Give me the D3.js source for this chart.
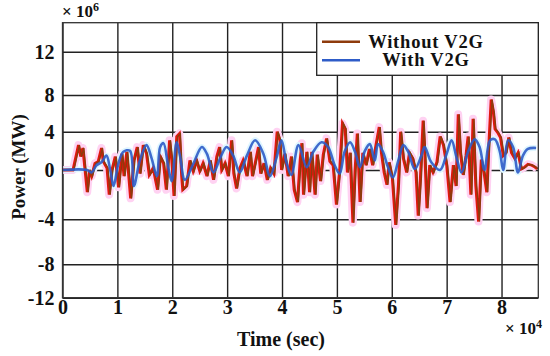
<!DOCTYPE html>
<html>
<head>
<meta charset="utf-8">
<script src="https://cdn.jsdelivr.net/npm/d3@7"></script>
<style>
  body { margin: 0; background: #fff; }
  text { font-family: "Liberation Serif", "Times New Roman", serif; font-weight: bold; fill: #111; }
</style>
</head>
<body>
<div id="chart"></div>
<script>
      var w = 550;
      var h = 356;

      // time in units of 1e4 sec, power in units of 1e6
      var xTicks = [0, 1, 2, 3, 4, 5, 6, 7, 8];
      var yTicks = [-12, -8, -4, 0, 4, 8, 12];
      var seriesNames = ["Without V2G", "With V2G"];

      var noV2gTime = [0.00, 0.19, 0.29, 0.33, 0.37, 0.41, 0.45, 0.49, 0.53, 0.59, 0.65, 0.71, 0.74, 0.81, 0.85, 0.90,
        0.96, 1.02, 1.08, 1.12, 1.17, 1.24, 1.30, 1.36, 1.41, 1.47, 1.53, 1.58, 1.65, 1.73, 1.78, 1.84, 1.89, 1.95,
        1.99, 2.03, 2.08, 2.13, 2.17, 2.19, 2.26, 2.32, 2.38, 2.44, 2.50, 2.56, 2.63, 2.69, 2.75, 2.81, 2.86, 2.90,
        2.96, 3.02, 3.08, 3.12, 3.17, 3.23, 3.29, 3.36, 3.42, 3.46, 3.52, 3.57, 3.61, 3.67, 3.73, 3.79, 3.85, 3.91,
        3.96, 3.99, 4.05, 4.11, 4.17, 4.22, 4.28, 4.33, 4.36, 4.39, 4.45, 4.50, 4.54, 4.60, 4.64, 4.70, 4.75, 4.81,
        4.87, 4.93, 4.99, 5.05, 5.10, 5.15, 5.19, 5.24, 5.29, 5.33, 5.37, 5.42, 5.47, 5.53, 5.59, 5.65, 5.71, 5.77,
        5.81, 5.86, 5.91, 5.95, 6.01, 6.07, 6.12, 6.16, 6.21, 6.27, 6.32, 6.38, 6.44, 6.48, 6.52, 6.57, 6.60, 6.64,
        6.69, 6.75, 6.82, 6.88, 6.94, 7.00, 7.06, 7.12, 7.17, 7.21, 7.25, 7.30, 7.35, 7.39, 7.44, 7.48, 7.53, 7.58,
        7.63, 7.68, 7.73, 7.76, 7.81, 7.85, 7.88, 7.93, 7.98, 8.03, 8.08, 8.13, 8.18, 8.24, 8.30, 8.36, 8.42, 8.48,
        8.55, 8.61, 8.65];
      var noV2gPower = [0, 0, 2.6, 1.4, 2.3, 0, -1.8, 0, -0.5, 0.7, 0.9, 2.3, 0.9, 0.2, -2.0, 0,
        1.4, -1.4, 1.7, -0.5, 1.9, -2.3, 1.0, 2.4, -0.3, 2.6, 1.7, -0.4, 0.2, -1.6, 1.4, 0.7, -1.6, 3.1,
        1.0, -2.1, 3.5, 3.8, -0.5, -1.6, -1.3, 1.0, -0.1, 1.0, -0.1, 0.7, -0.5, 1.0, -0.8, 1.4, 2.4, 0,
        0.7, -0.5, 3.1, -0.3, -1.5, 0.2, 1.0, -0.5, 1.9, -0.5, 1.0, 2.4, -0.3, 0.7, -0.8, 0.2, -0.3, 4.0,
        3.1, 0, 1.7, -0.5, 1.4, -1.6, -2.6, 1.0, 2.8, -2.0, 1.9, -1.8, 1.9, -2.0, 1.6, -0.9, 1.6, 3.3,
        0.9, 0.5, -2.8, 0, 4.9, 4.3, -0.2, 1.8, -4.3, 0, 3.8, -2.6, 1.8, 0.5, 2.2, 0.5, 2.6, 4.5,
        1.8, -0.2, -1.2, 0.8, -0.7, -4.5, -1.2, 4.0, 1.2, -0.2, 1.8, 1.2, -0.2, -3.7, -0.7, 5.2, 1.8, -3.1,
        0.5, -0.2, 0.8, 3.5, 2.6, 0.5, -2.6, 0.5, -1.3, 5.9, 1.8, -0.4, 1.5, 3.5, -2.0, 5.4, -1.3, -4.2,
        1.1, -0.2, -1.8, 1.8, 7.5, 6.1, 4.3, 3.9, 3.4, 1.5, 1.8, 3.4, 1.8, 1.2, 1.8, 0.1, 0.3, 0.6,
        0.5, 0.3, 0.1];

      var v2gTime = [0.00, 0.45, 0.53, 0.62, 0.71, 0.80, 0.87, 0.93, 1.02, 1.11, 1.23, 1.30, 1.41, 1.53, 1.62,
        1.72, 1.78, 1.84, 1.93, 1.99, 2.08, 2.14, 2.23, 2.38, 2.54, 2.63, 2.75, 2.87, 2.99, 3.11, 3.23, 3.36,
        3.51, 3.66, 3.78, 3.90, 3.99, 4.08, 4.17, 4.30, 4.45, 4.57, 4.72, 4.84, 4.96, 5.05, 5.14, 5.24, 5.33,
        5.42, 5.51, 5.60, 5.69, 5.75, 5.84, 5.93, 6.02, 6.12, 6.21, 6.30, 6.42, 6.54, 6.60, 6.72, 6.88, 7.00,
        7.09, 7.18, 7.27, 7.39, 7.51, 7.60, 7.69, 7.79, 7.88, 7.97, 8.03, 8.12, 8.21, 8.30, 8.39, 8.48, 8.63];
      var v2gPower = [0, 0, -0.2, 0.5, 0.8, 1.5, 0, -1.3, 0.7, 1.9, 2.0, -1.3, 1.0, 2.6, 1.3,
        -0.5, 2.4, 2.8, 0.2, -0.9, 2.9, 1.5, -0.8, 0.6, 2.4, 1.7, -0.2, 1.2, 2.4, 1.5, -0.2, 1.5,
        3.1, 1.7, -0.5, 1.3, 3.1, 0.8, -0.4, 2.6, 0.3, 1.9, 2.9, 2.4, 0.5, -0.3, 1.9, 2.9, 1.9,
        0.3, 2.0, 2.7, 1.0, 2.7, 1.9, 0.3, -0.6, 1.0, 2.6, 1.9, 0.1, 1.5, 2.4, 0.8, 0, 1.7,
        3.1, 1.3, -0.2, 1.9, 3.2, 2.4, 0, 3.1, 3.2, 1.9, 0, 3.1, 2.4, -0.2, 1.5, 2.2, 2.3];

      var plotLeft = 62.5, plotRight = 538.3, plotTop = 22.7, plotBottom = 297.7;

      var xScale = d3.scaleLinear()
              .domain([0, 8.67])
              .range([plotLeft, plotRight]);

      // the printed grid is not evenly spaced, so the scale follows it piece by piece
      var yScale = d3.scaleLinear()
              .domain([-12, -8, -4, 0, 4, 8, 12, 14.7])
              .range([plotBottom, 264.3, 219.3, 170, 131.7, 95, 51.7, plotTop]);

      var svg = d3.select("#chart")
            .append("svg")
            .attr("width", w)
            .attr("height", h);

      //Grid
      var gx = svg.append("g")
         .attr("transform", "translate(0," + plotBottom + ")")
         .call(d3.axisBottom(xScale).tickValues(xTicks).tickSize(-(plotBottom - plotTop)).tickFormat(""));
      var gy = svg.append("g")
         .attr("transform", "translate(" + plotLeft + ",0)")
         .call(d3.axisLeft(yScale).tickValues(yTicks).tickSize(-(plotRight - plotLeft)).tickFormat(""));
      svg.selectAll(".tick line").attr("stroke", "#222").attr("stroke-width", 1.4);
      gx.select(".domain").remove();
      gy.select(".domain").remove();

      //Tick labels (plain hyphen for negatives, as printed)
      var plain = function(d) { return String(d); };
      var xLab = svg.append("g")
         .attr("transform", "translate(0," + plotBottom + ")")
         .call(d3.axisBottom(xScale).tickValues(xTicks).tickSize(0).tickPadding(2).tickFormat(plain));
      var yLab = svg.append("g")
         .attr("transform", "translate(" + plotLeft + ",0)")
         .call(d3.axisLeft(yScale).tickValues(yTicks).tickSize(0).tickPadding(8).tickFormat(plain));
      [xLab, yLab].forEach(function(g) {
        g.select(".domain").remove();
        g.selectAll("text")
         .attr("font-family", "Liberation Serif, Times New Roman, serif")
         .attr("font-weight", "bold")
         .attr("font-size", 20)
         .attr("fill", "#111");
      });

      //Lines
      var line = d3.line()
            .x(function(d) { return xScale(d[0]); })
            .y(function(d) { return yScale(d[1]); });
      var smooth = d3.line()
            .x(function(d) { return xScale(d[0]); })
            .y(function(d) { return yScale(d[1]); })
            .curve(d3.curveCatmullRom.alpha(0.5));

      var noV2g = d3.zip(noV2gTime, noV2gPower);
      var v2g = d3.zip(v2gTime, v2gPower);

      svg.append("path").datum(noV2g).attr("d", line)
         .attr("fill", "none").attr("stroke", "#ffd2f2").attr("stroke-width", 8).attr("stroke-linejoin", "round");
      svg.append("path").datum(v2g).attr("d", smooth)
         .attr("fill", "none").attr("stroke", "#dff6ff").attr("stroke-width", 6);
      svg.append("path").datum(noV2g).attr("d", line)
         .attr("fill", "none").attr("stroke", "#e0180e").attr("stroke-width", 2.8);
      svg.append("path").datum(noV2g).attr("d", line)
         .attr("transform", "translate(1,0)")
         .attr("fill", "none").attr("stroke", "#8e3b0c").attr("stroke-width", 1.4);
      svg.append("path").datum(v2g).attr("d", smooth)
         .attr("fill", "none").attr("stroke", "#2e5cc8").attr("stroke-width", 2.6)
         .attr("stroke-opacity", 0.9);

      //Frame
      svg.append("rect")
         .attr("x", plotLeft).attr("y", plotTop)
         .attr("width", plotRight - plotLeft).attr("height", plotBottom - plotTop)
         .attr("fill", "none").attr("stroke", "#333").attr("stroke-width", 1.3);

      //Legend
      var legend = svg.append("g");
      legend.append("rect")
         .attr("x", 316.7).attr("y", plotTop)
         .attr("width", plotRight - 316.7).attr("height", 52.6)
         .attr("fill", "#fff").attr("stroke", "#222").attr("stroke-width", 1.3);
      var legendColors = ["#8e3b0c", "#2e5cc8"];
      seriesNames.forEach(function(name, i) {
        var y = 41.7 + i * 18.6;
        legend.append("line")
           .attr("x1", 322).attr("x2", 360).attr("y1", y).attr("y2", y)
           .attr("stroke", legendColors[i]).attr("stroke-width", 2.4);
        legend.append("text")
           .attr("x", 426).attr("y", y + 6)
           .attr("text-anchor", "middle")
           .attr("font-size", 18.5)
           .attr("letter-spacing", 0.8)
           .text(name);
      });

      //Axis titles
      svg.append("text")
         .attr("transform", "translate(25,167) rotate(-90)")
         .attr("text-anchor", "middle")
         .attr("font-size", 19)
         .text("Power (MW)");
      svg.append("text")
         .attr("x", 281).attr("y", 346)
         .attr("text-anchor", "middle")
         .attr("font-size", 20)
         .text("Time (sec)");

      var e6 = svg.append("text").attr("x", 62).attr("y", 17).attr("font-size", 17);
      e6.append("tspan").text("× 10");
      e6.append("tspan").attr("dy", -6).attr("font-size", 12).text("6");
      var e4 = svg.append("text").attr("x", 505).attr("y", 334).attr("font-size", 17);
      e4.append("tspan").text("× 10");
      e4.append("tspan").attr("dy", -6).attr("font-size", 12).text("4");
</script>
</body>
</html>
